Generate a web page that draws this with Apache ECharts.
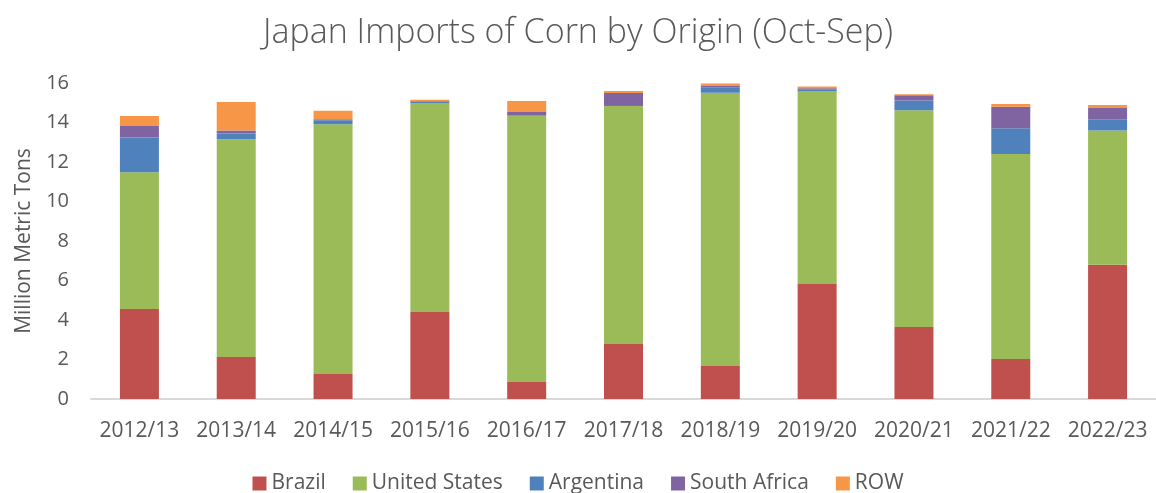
<!DOCTYPE html>
<html>
<head>
<meta charset="utf-8">
<script src="https://cdn.jsdelivr.net/npm/echarts@6/dist/echarts.min.js"></script>
<style>
html,body{margin:0;padding:0;background:#fff;}
#chart{width:1156px;height:493px;}
</style>
</head>
<body>
<div id="chart"></div>
<script>
var categories = ['2012/13','2013/14','2014/15','2015/16','2016/17','2017/18','2018/19','2019/20','2020/21','2021/22','2022/23'];
var brazil       = [4.56, 2.13, 1.27, 4.41, 0.86, 2.78, 1.67, 5.82, 3.65, 2.03, 6.80];
var unitedStates = [6.92, 11.02, 12.64, 10.58, 13.47, 12.06, 13.84, 9.77, 10.97, 10.38, 6.80];
var argentina    = [1.76, 0.29, 0.20, 0.05, 0.03, 0.05, 0.27, 0.07, 0.49, 1.30, 0.56];
var southAfrica  = [0.58, 0.15, 0.05, 0.03, 0.17, 0.60, 0.07, 0.07, 0.27, 1.09, 0.57];
var row          = [0.51, 1.45, 0.43, 0.08, 0.56, 0.10, 0.12, 0.09, 0.05, 0.14, 0.16];
var yTicks = [0, 2, 4, 6, 8, 10, 12, 14, 16];

var seriesDefs = [
  {name:'Brazil', data:brazil, color:'#C0504D'},
  {name:'United States', data:unitedStates, color:'#9BBB59'},
  {name:'Argentina', data:argentina, color:'#4F81BD'},
  {name:'South Africa', data:southAfrica, color:'#8064A2'},
  {name:'ROW', data:row, color:'#F79646'}
];

var font = 'Open Sans';
var chart = echarts.init(document.getElementById('chart'));
chart.setOption({
  animation:false,
  backgroundColor:'#fff',
  title:{
    text:'Japan Imports of Corn by Origin (Oct-Sep)',
    left:'center', top:11,
    textStyle:{fontFamily:font, fontSize:34, fontWeight:300, color:'#595959'}
  },
  legend:{
    bottom:-6, left:'center',
    itemWidth:14, itemHeight:14, itemGap:27,
    icon:'rect',
    textStyle:{fontFamily:font, fontSize:21, color:'#595959'},
    data:seriesDefs.map(function(s){return s.name;})
  },
  grid:{left:91, right:-3, top:83, bottom:94},
  xAxis:{
    type:'category',
    data:categories,
    axisLine:{lineStyle:{color:'#D9D9D9', width:2}},
    axisTick:{show:false},
    axisLabel:{fontFamily:font, fontSize:21, color:'#595959', margin:22, interval:0}
  },
  yAxis:{
    type:'value',
    min:yTicks[0], max:yTicks[yTicks.length-1], interval:2,
    name:'Million Metric Tons',
    nameLocation:'middle',
    nameGap:56,
    nameTextStyle:{fontFamily:font, fontSize:21, color:'#595959'},
    axisLine:{show:false},
    axisTick:{show:false},
    splitLine:{show:false},
    axisLabel:{fontFamily:font, fontSize:20, color:'#595959', margin:22}
  },
  series:seriesDefs.map(function(s){
    return {
      name:s.name, type:'bar', stack:'total',
      data:s.data, barWidth:39,
      itemStyle:{color:s.color},
      emphasis:{disabled:true}
    };
  })
});
</script>
</body>
</html>
